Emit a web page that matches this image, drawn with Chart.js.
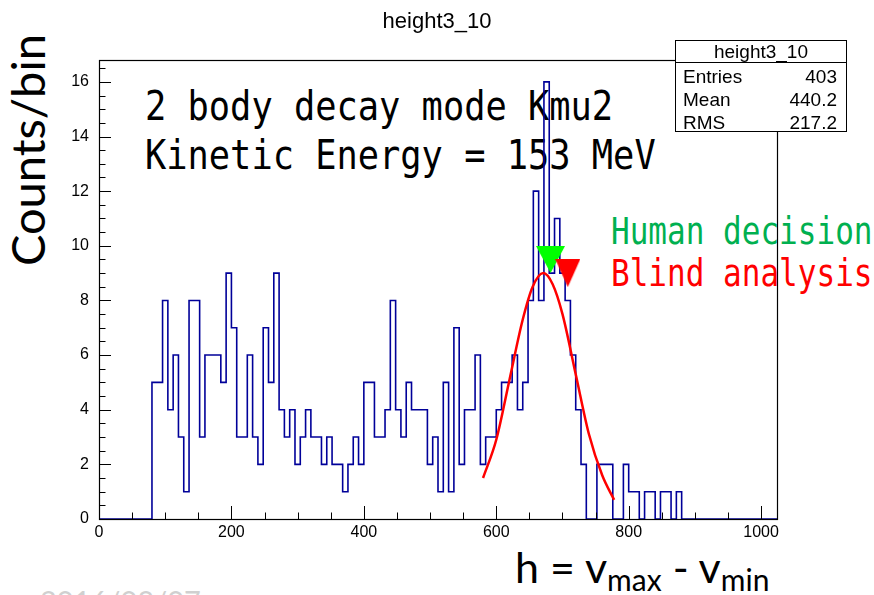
<!DOCTYPE html>
<html>
<head>
<meta charset="utf-8">
<title>height3_10</title>
<script src="https://cdn.jsdelivr.net/npm/chart.js@4.4.1/dist/chart.umd.min.js"></script>
<style>
  body { margin: 0; background: #fff; }
  #wrap { position: relative; width: 874px; height: 595px; overflow: hidden; background: #fff; }
  #wrap div { position: absolute; white-space: nowrap; }
  canvas { position: absolute; left: 0; top: 0; z-index: 1; }
  .mono { font-family: "DejaVu Sans Mono", monospace; transform-origin: 0 0; }
  .big { font-size: 41px; line-height: 41px; transform: scaleX(0.862); color: #000; }
  .mid { font-size: 36.5px; line-height: 36.5px; transform: scaleX(0.85); }
  .sans { font-family: "Liberation Sans", Arial, sans-serif; color: #000; }
  #title { left: 0; width: 874px; top: 10px; text-align: center; font-size: 22px; line-height: 22px; z-index: 2; }
  #stats { left: 675px; top: 40px; width: 172px; height: 92px; box-sizing: border-box; border: 1px solid #000; background: #fff; z-index: 2; }
  #stats div { font-size: 19px; line-height: 19px; }
  #stats .sep { left: 0; right: 0; top: 21px; height: 0; border-top: 1px solid #000; }
  .lab { left: 7px; }
  .val { right: 9px; text-align: right; }
  .calib { font-family: Lato, "Open Sans", sans-serif; color: #000; }
  sub { font-size: 30px; line-height: 0; vertical-align: -8px; }
</style>
</head>
<body>
<div id="wrap">
  <div class="mono big" style="left:145px; top:86px;">2 body decay mode Kmu2</div>
  <div class="mono big" style="left:145px; top:135px;">Kinetic Energy = 153 MeV</div>
  <div class="mono mid" style="left:611px; top:214px; color:#00b050;">Human decision</div>
  <div class="mono mid" style="left:611px; top:256px; color:#ff0000;">Blind analysis</div>
  <div class="calib" style="left:4px; top:266px; font-size:47px; line-height:47px; transform-origin:0 0; transform:rotate(-90deg);">Counts/bin</div>
  <div class="calib" style="left:515px; top:545px; font-size:43px; line-height:43px;">h = v<sub>max</sub> - v<sub>min</sub></div>
  <div class="calib" style="left:40px; top:586px; font-size:29px; line-height:29px; color:#d0d0d0;">2016/03/07</div>
  <canvas id="histChart" width="874" height="595"></canvas>
  <div id="title" class="sans">height3_10</div>
  <div id="stats" class="sans">
    <div style="left:0; right:0; top:1px; text-align:center;">height3_10</div>
    <div class="sep"></div>
    <div class="lab" style="top:26px;">Entries</div><div class="val" style="top:26px;">403</div>
    <div class="lab" style="top:49px;">Mean</div><div class="val" style="top:49px;">440.2</div>
    <div class="lab" style="top:72px;">RMS</div><div class="val" style="top:72px;">217.2</div>
  </div>
</div>
<script>
// histogram: 128 bins of width 8 from 0 to 1024
const binWidth = 8;
const counts = [
  0, 0, 0, 0, 0, 0, 0, 0, 0, 0, 5, 5, 8, 4, 6, 3,
  1, 8, 8, 3, 6, 6, 6, 5, 9, 7, 3, 3, 6, 3, 2, 7,
  5, 9, 4, 3, 4, 2, 3, 4, 3, 3, 2, 3, 2, 2, 1, 2,
  3, 2, 5, 5, 3, 3, 4, 8, 4, 3, 5, 4, 4, 4, 2, 3,
  1, 5, 1, 7, 2, 4, 4, 6, 2, 3, 3, 4, 5, 5, 6, 4,
  5, 8, 12, 8, 16, 9, 11, 9, 8, 6, 4, 2, 0, 0, 2, 2,
  2, 0, 0, 2, 1, 1, 0, 1, 1, 0, 1, 1, 0, 1, 0, 0,
  0, 0, 0, 0, 0, 0, 0, 0, 0, 0, 0, 0, 0, 0, 0, 0
];

// gaussian fit curve
const fitX = [580, 600, 620, 640, 655, 671, 685, 700, 720, 740, 760, 778];
const fitY = [1.5, 2.9, 5.1, 7.3, 8.5, 9.0, 8.6, 7.5, 5.3, 3.1, 1.6, 0.7];

// markers
const humanX = [682];
const humanY = [9.5];
const blindX = [708];
const blindY = [9.0];

const xTickValues = [0, 200, 400, 600, 800, 1000];
const yTickValues = [0, 2, 4, 6, 8, 10, 12, 14, 16];
const xMax = 1024;
const yMax = 16.8;

// step outline: Chart.js 'after' rises at the previous point, so each
// bin's count is attached to its upper edge
const histPoints = [{ x: 0, y: 0 }];
counts.forEach((c, i) => histPoints.push({ x: (i + 1) * binWidth, y: c }));

const fitPoints = fitX.map((x, i) => ({ x, y: fitY[i] }));

// downward triangle used as point style
function downTriangle(w, h, color) {
  const c = document.createElement('canvas');
  c.width = w;
  c.height = h;
  const g = c.getContext('2d');
  g.fillStyle = color;
  g.beginPath();
  g.moveTo(0, 0);
  g.lineTo(w, 0);
  g.lineTo(w / 2, h);
  g.closePath();
  g.fill();
  return c;
}

// ROOT style frame with inward ticks
const frameTicks = {
  id: 'frameTicks',
  afterDatasetsDraw(chart) {
    const { ctx, chartArea: a, scales: { x, y } } = chart;
    ctx.save();
    ctx.strokeStyle = '#000';
    ctx.lineWidth = 1;
    ctx.beginPath();
    for (let k = 0; k * 50 <= 1000; k++) {
      const v = k * 50;
      const px = Math.round(x.getPixelForValue(v)) + 0.5;
      const len = v % 200 === 0 ? 13 : 6.5;
      ctx.moveTo(px, a.bottom);
      ctx.lineTo(px, a.bottom - len);
    }
    for (let k = 0; k * 0.5 <= yMax; k++) {
      const v = k * 0.5;
      const py = Math.round(y.getPixelForValue(v)) + 0.5;
      const len = k % 4 === 0 ? 12 : 6.5;
      ctx.moveTo(a.left, py);
      ctx.lineTo(a.left + len, py);
    }
    ctx.stroke();
    ctx.lineWidth = 1.2;
    ctx.strokeRect(Math.round(a.left) + 0.5, Math.round(a.top) + 0.5, Math.round(a.right - a.left), Math.round(a.bottom - a.top));
    ctx.restore();
  }
};

const tickFont = { family: '"Liberation Sans", Arial, sans-serif', size: 16 };

new Chart(document.getElementById('histChart'), {
  type: 'line',
  data: {
    datasets: [
      {
        data: histPoints,
        stepped: 'after',
        borderColor: '#000099',
        borderWidth: 1.6,
        pointRadius: 0,
        fill: false,
        order: 3
      },
      {
        data: fitPoints,
        borderColor: '#ff0000',
        borderWidth: 2.5,
        pointRadius: 0,
        cubicInterpolationMode: 'monotone',
        fill: false,
        order: 2
      },
      {
        type: 'scatter',
        data: humanX.map((x, i) => ({ x, y: humanY[i] })),
        pointStyle: downTriangle(29, 27, '#00ff00'),
        order: 1
      },
      {
        type: 'scatter',
        data: blindX.map((x, i) => ({ x, y: blindY[i] })),
        pointStyle: downTriangle(25, 28, '#ff0000'),
        order: 0
      }
    ]
  },
  options: {
    responsive: false,
    animation: false,
    devicePixelRatio: 1,
    layout: { padding: { left: 0, right: 97, top: 60, bottom: 0 } },
    plugins: {
      legend: { display: false },
      tooltip: { enabled: false },
      title: { display: false }
    },
    scales: {
      x: {
        type: 'linear',
        min: 0,
        max: xMax,
        grid: { display: false, drawTicks: false },
        border: { display: false },
        ticks: {
          font: tickFont,
          color: '#000',
          padding: 4,
          maxRotation: 0,
          autoSkip: false,
          callback: v => String(v)
        },
        afterBuildTicks: s => { s.ticks = xTickValues.map(v => ({ value: v })); },
        afterFit: s => { s.height = 76; }
      },
      y: {
        type: 'linear',
        min: 0,
        max: yMax,
        grid: { display: false, drawTicks: false },
        border: { display: false },
        ticks: {
          font: tickFont,
          color: '#000',
          padding: 10,
          autoSkip: false,
          callback: v => String(v)
        },
        afterBuildTicks: s => { s.ticks = yTickValues.map(v => ({ value: v })); },
        afterFit: s => { s.width = 99; }
      }
    }
  },
  plugins: [frameTicks]
});
</script>
</body>
</html>
